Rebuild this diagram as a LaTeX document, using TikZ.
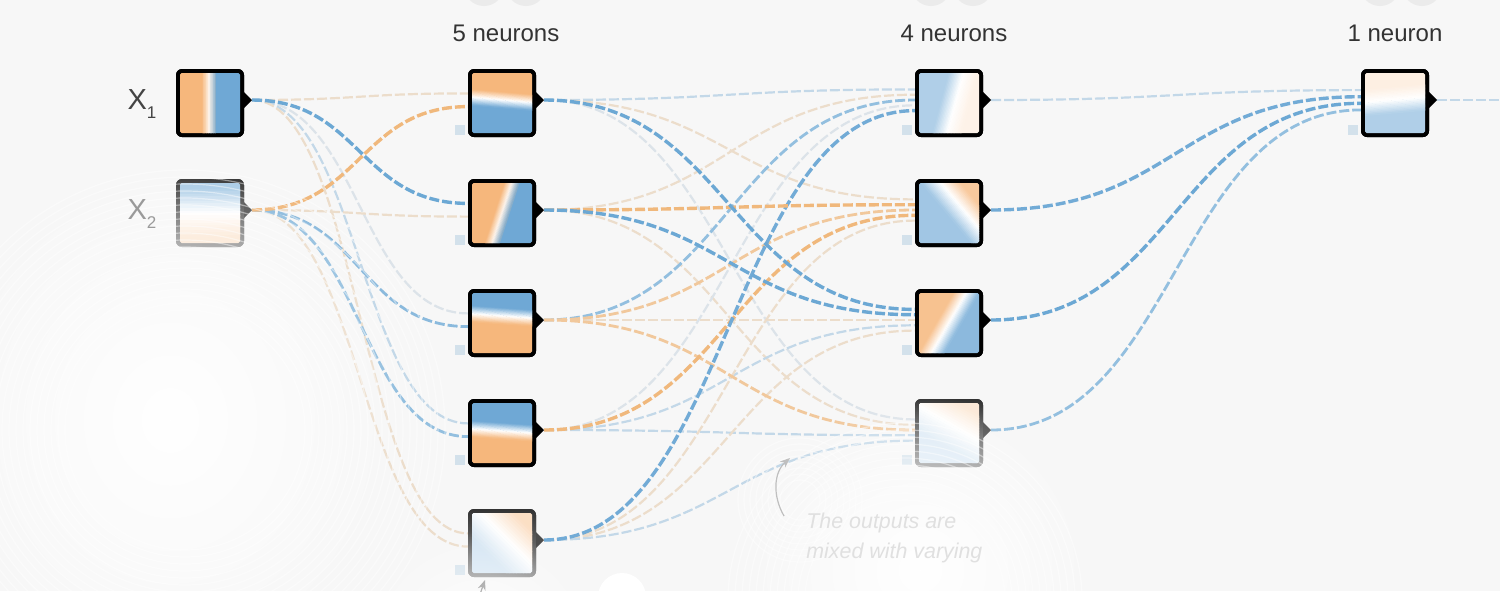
\documentclass[tikz,border=0pt]{standalone}
\usepackage{fontspec}
\setmainfont{Liberation Sans}
\usetikzlibrary{calc,fadings,arrows.meta}
\definecolor{bg}{HTML}{F7F7F7}
\definecolor{OR}{HTML}{F6B77C}
\definecolor{BL}{HTML}{6FA8D5}
\definecolor{sb}{HTML}{6CA8D4}
\definecolor{mb}{HTML}{93BFDF}
\definecolor{lb}{HTML}{C3D8E8}
\definecolor{gb}{HTML}{DCE3E9}
\definecolor{so}{HTML}{F0B87C}
\definecolor{mo}{HTML}{F1C89C}
\definecolor{be}{HTML}{ECDDCB}
\definecolor{bias}{HTML}{D3E1EB}
\definecolor{labc}{HTML}{333333}
\definecolor{xc}{HTML}{444444}
\definecolor{xcf}{HTML}{9A9A9A}
\definecolor{annc}{HTML}{E0E0E0}
\definecolor{btn}{HTML}{EBEBEB}
\tikzfading[name=glow, inner color=transparent!0, outer color=transparent!100]

% link from the output tip of #2 to the left side of #3, shifted by #4 px
\newcommand\lnk[4]{%
  \coordinate (lkT) at ($(#3.west)+(0,#4)$);
  \coordinate (lkM) at ($(#2o)!0.5!(lkT)$);
  \draw[#1] (#2o) .. controls (lkM |- #2o) and (lkM |- lkT) .. (lkT);
}
% heat-map content of a neuron box
\newcommand\heat[7]{%
  \begin{scope}
    \clip[rounded corners=0.8pt] ($(#1.center)+(-30,-30)$) rectangle ($(#1.center)+(30,30)$);
    \begin{scope}[shift={(#1.center)}, rotate=#2]
      \fill[#4] (-60,-60) rectangle (60,#3);
      \fill[#5] (-60,#3) rectangle (60,60);
      \foreach \i in {0,...,19}{
        \pgfmathsetmacro\ya{#3-#6+\i*#6/10}
        \pgfmathsetmacro\yb{\ya+#6/10+0.4}
        \pgfmathtruncatemacro\pa{max(0,100-(\i+0.5)*10)}
        \pgfmathtruncatemacro\pb{max(0,(\i+0.5)*10-100)}
        \ifnum\i<10 \fill[#4!\pa!#7] (-60,\ya) rectangle (60,\yb);
        \else \fill[#5!\pb!#7] (-60,\ya) rectangle (60,\yb); \fi
      }
    \end{scope}
  \end{scope}
}
% output triangle
\newcommand\tri[2]{%
  \fill[#2] ($(#1.east)+(0,-11)$) -- ($(#1.east)+(8,-3)$) -- ($(#1.east)+(0,5)$) -- cycle;
}
\newcommand\bias[2]{%
  \fill[#2] ($(#1.center)+(-47,22)$) rectangle ($(#1.center)+(-37,32)$);
}

\begin{document}
\begin{tikzpicture}[x=0.5pt,y=-0.5pt,
  nb/.style={rectangle, minimum size=34pt, inner sep=0pt, outer sep=0pt, rounded corners=3pt, fill=black},
  nbf/.style={rectangle, minimum size=34pt, inner sep=0pt, outer sep=0pt, rounded corners=3pt, top color=black!80, bottom color=black!45},
  lab/.style={font=\fontsize{12}{14}\selectfont, text=labc, inner sep=0pt},
  xlab/.style={font=\fontsize{14.5}{16}\selectfont, inner sep=0pt},
  fa/.style={line width=1.1pt, dash pattern=on 5pt off 1.5pt},
  me/.style={line width=1.4pt, dash pattern=on 5pt off 1.5pt},
  st/.style={line width=1.7pt, dash pattern=on 5pt off 1.5pt},
  glowc/.style={white, path fading=glow},
  ring/.style={white, line width=0.6pt, opacity=0.45},
]
\useasboundingbox (0,0) rectangle (1500,591);
\fill[bg] (0,0) rectangle (1500,591);

% buttons cut by the top edge
\foreach \bx in {484,526,931,973,1380,1422}
  \fill[btn] (\bx,-14) circle (20);

% ---------- nodes ----------
\node[nb]  (x1) at (210,103) {};
\node[nbf] (x2) at (210,213) {};
\node[nb]  (h1) at (502,103) {};
\node[nb]  (h2) at (502,213) {};
\node[nb]  (h3) at (502,323) {};
\node[nb]  (h4) at (502,433) {};
\node[nbf] (h5) at (502,543) {};
\node[nb]  (g1) at (949,103) {};
\node[nb]  (g2) at (949,213) {};
\node[nb]  (g3) at (949,323) {};
\node[nbf] (g4) at (949,433) {};
\node[nb]  (yout) at (1395,103) {};

\foreach \n in {x1,x2,h1,h2,h3,h4,h5,g1,g2,g3,g4,yout}
  \coordinate (\n o) at ($(\n.east)+(8,-3)$);
\coordinate (rend) at (1500,100);

% ---------- links ----------
% inputs -> layer 1
\lnk{fa,be}{x1}{h1}{-9.6}
\lnk{fa,gb}{x1}{h3}{-9.6}
\lnk{fa,lb}{x1}{h4}{-9.6}
\lnk{fa,be}{x1}{h5}{-9.6}
\lnk{fa,be}{x2}{h2}{3.6}
\lnk{fa,be}{x2}{h5}{3.6}
\lnk{me,mb}{x2}{h4}{3.6}
\lnk{me,mb!80!sb}{x2}{h3}{3.6}
\lnk{st,so}{x2}{h1}{3.6}
\lnk{st,sb}{x1}{h2}{-9.6}
% layer 1 -> layer 2
\lnk{fa,lb}{h1}{g1}{-13.6}
\lnk{fa,be}{h1}{g2}{-13.6}
\lnk{fa,gb}{h1}{g4}{-13.6}
\lnk{fa,be}{h2}{g1}{-8.3}
\lnk{fa,be}{h2}{g4}{-8.3}
\lnk{fa,be}{h3}{g3}{-3}
\lnk{fa,gb}{h4}{g1}{2.3}
\lnk{fa,lb}{h4}{g3}{2.3}
\lnk{fa,lb}{h4}{g4}{2.3}
\lnk{fa,be}{h5}{g2}{7.6}
\lnk{fa,be}{h5}{g3}{7.6}
\lnk{fa,lb}{h5}{g4}{7.6}
\lnk{me,mb}{h3}{g1}{-3}
\lnk{me,mo}{h3}{g2}{-3}
\lnk{me,mo}{h3}{g4}{-3}
\lnk{st,so}{h4}{g2}{2.3}
\lnk{st,sb!85!mb}{h5}{g1}{7.6}
\lnk{st,so}{h2}{g2}{-8.3}
\lnk{st,sb}{h1}{g3}{-13.6}
\lnk{st,sb}{h2}{g3}{-8.3}
% layer 2 -> output
\lnk{fa,lb}{g1}{yout}{-12.9}
\lnk{me,mb}{g4}{yout}{6.9}
\lnk{st,sb!85!mb}{g2}{yout}{-6.3}
\lnk{st,sb}{g3}{yout}{0.3}
\draw[fa,lb] (youto) -- (rend);

% redraw the boxes on top of the links
\node[nb]  at (x1) {};
\node[nbf] at (x2) {};
\foreach \n in {h1,h2,h3,h4,g1,g2,g3,yout} \node[nb] at (\n) {};
\node[nbf] at (h5) {};
\node[nbf] at (g4) {};

% ---------- heat maps ----------
\heat{x1}{90}{-1}{OR}{BL}{7}{white!85!OR}
\heat{x2}{0}{0}{BL!60!white}{OR!35!white}{24}{white}
\heat{h1}{-5}{-3}{OR}{BL}{8}{white}
\heat{h2}{72}{0}{OR}{BL}{7}{white!85!OR}
\heat{h3}{-4}{-7}{BL}{OR}{8}{white}
\heat{h4}{-4}{-2}{BL}{OR}{8}{white}
\heat{h5}{-45}{-6}{OR!45!white}{BL!30!white}{24}{white}
\heat{g1}{75}{6}{BL!55!white}{OR!18!white}{14}{white}
\heat{g2}{-50}{-13}{OR!75!white}{BL!65!white}{15}{white}
\heat{g3}{60}{0}{OR!85!white}{BL!80!white}{11}{white}
\heat{g4}{-30}{-8}{OR!30!white}{BL!25!white}{22}{white}
\heat{yout}{5}{-3}{OR!22!white}{BL!55!white}{13}{white}

% triangles
\foreach \n in {x1,h1,h2,h3,h4,g1,g2,g3,yout} {\tri{\n}{black}}
\foreach \n in {x2,h5,g4} {\tri{\n}{black!70}}

% bias squares
\foreach \n in {h1,h2,h3,h4,h5,g1,g2,g3,g4,yout} {\bias{\n}{bias}}

% ---------- white ripples ----------
\fill[glowc, fill opacity=1] (170,420) ellipse (230 and 260);
\foreach \r in {120,127,...,265} \draw[ring] (185,430) circle (\r);
\fill[glowc, fill opacity=0.9] (480,650) circle (120);
\fill[glowc, fill opacity=1] (920,570) circle (175);
\foreach \r in {100,107,...,180} \draw[ring] (905,600) circle (\r);
\foreach \r in {20,26,...,62} \draw[ring] (800,500) circle (\r);
\fill[white] (622,597) circle (24);

% annotation arrows
\draw[black!25, line width=0.6pt, -{Stealth[length=5pt,width=4pt]}] (784,516) .. controls (772,495) and (774,472) .. (790,458);
\draw[black!30, line width=0.6pt, -{Stealth[length=5pt,width=4pt]}] (478,600) -- (485,580);

% ---------- labels ----------
\node[lab] (t1) at (506,33) {5 neurons};
\node[lab] (t2) at (954,33) {4 neurons};
\node[lab] (t3) at (1395,33) {1 neuron};
\node[xlab, text=xc]  (lx1) at (142,104) {X\raisebox{-4.5pt}{\fontsize{8.5}{9}\selectfont 1}};
\node[xlab, text=xcf] (lx2) at (142,214) {X\raisebox{-4.5pt}{\fontsize{8.5}{9}\selectfont 2}};
\node[anchor=north west, inner sep=0pt, align=left, text=annc,
      font=\itshape\fontsize{10.7}{15}\selectfont] (ann) at (806,513) {The outputs are\\mixed with varying};
\end{tikzpicture}
\end{document}
